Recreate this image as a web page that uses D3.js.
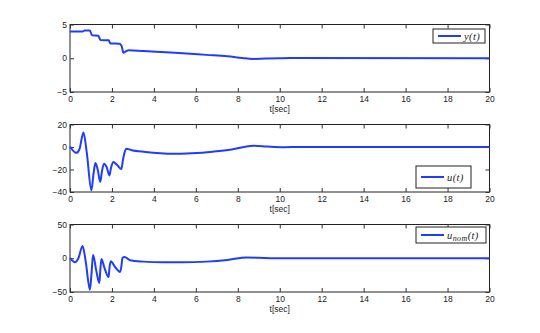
<!DOCTYPE html>
<html>
<head>
<meta charset="utf-8">
<script src="https://cdn.jsdelivr.net/npm/d3@7"></script>
<style>
  body { margin: 0; background: #fff; }
  svg text { font-family: "Liberation Sans", Arial, sans-serif; }
</style>
</head>
<body>
<script>
// time ticks shared by the three panels
var timeTicks = [0, 2, 4, 6, 8, 10, 12, 14, 16, 18, 20]

// y(t)
var yTicks = [-5, 0, 5]
var yTime = [0, 0.6, 0.7, 0.95, 1.05, 1.35, 1.45, 1.85, 1.92, 2.35, 2.45, 2.55, 2.65, 2.8, 3.5, 5, 6.5, 7.5, 8.2, 8.7, 9.3, 10, 10.5, 20]
var yVals = [3.95, 3.97, 4.1, 4.1, 3.4, 3.35, 2.7, 2.65, 2.2, 2.15, 1.9, 0.8, 1.0, 1.2, 1.07, 0.8, 0.5, 0.3, 0.05, -0.1, -0.05, 0.0, 0.02, 0]

// u(t)
var uTicks = [-40, -20, 0, 20]
var uTime = [0, 0.3, 0.45, 0.64, 0.8, 1.02, 1.12, 1.21, 1.32, 1.44, 1.52, 1.62, 1.75, 1.88, 1.95, 2.06, 2.25, 2.45, 2.52, 2.6, 2.69, 2.9, 3.6, 4.3, 4.95, 5.8, 6.8, 7.7, 8.3, 8.75, 9.4, 10.2, 11, 14, 20]
var uVals = [0.5, -5.2, -2, 12.9, -5, -38.5, -24, -14.3, -20, -31, -22, -14.8, -18, -25.3, -19, -13.4, -16, -19.6, -12, -5, -1.5, -2.6, -4.4, -5.6, -6.1, -5.6, -4.2, -2.2, 0, 1.1, 0.4, -0.2, 0, -0.1, 0]

// u_nom(t)
var unTicks = [-50, 0, 50]
var unTime = [0, 0.24, 0.4, 0.6, 0.75, 0.95, 1.02, 1.1, 1.25, 1.4, 1.44, 1.5, 1.65, 1.84, 1.88, 1.94, 2.15, 2.39, 2.45, 2.5, 2.6, 2.86, 3.5, 4.4, 5.4, 6.5, 7.5, 8.43, 9, 9.7, 11, 20]
var unVals = [0.5, -6, 0, 18, -5, -46.5, -25, 5, -18, -36.5, -20, -1, -15, -27.7, -15, -4.4, -13, -20.3, -12, 0.5, 2, -3, -5, -6, -6.1, -5, -2.5, 1.2, 0.8, 0, 0, 0]

var width = 540,
    height = 333
var left = 70, right = 489.5, panelH = 67.5
var lineColor = '#1f3cff'

var svg = d3.select('body').append('svg')
    .attr('width', width)
    .attr('height', height)

var x = d3.scaleLinear().domain([0, 20]).range([left, right])

var panels = [
    {top: 24.5, domain: [-5, 5], ticks: yTicks, t: yTime, v: yVals, legend: {x: 433, y: 29, w: 52, h: 14, label: 'y'}},
    {top: 124.5, domain: [-40, 20], ticks: uTicks, t: uTime, v: uVals, legend: {x: 416, y: 166, w: 55, h: 22, label: 'u'}},
    {top: 224.5, domain: [-50, 50], ticks: unTicks, t: unTime, v: unVals, legend: {x: 416, y: 227, w: 70, h: 16, label: 'u', sub: 'nom'}}
]

panels.forEach(function(p) {
    var y = d3.scaleLinear().domain(p.domain).range([p.top + panelH, p.top])
    var g = svg.append('g')

    // frame
    g.append('rect')
        .attr('x', left).attr('y', p.top)
        .attr('width', right - left).attr('height', panelH)
        .attr('fill', 'none').attr('stroke', '#222').attr('stroke-width', 1)

    // ticks, inside on all four sides (matlab box)
    var axes = [
        {axis: d3.axisBottom(x), tr: `translate(0,${p.top + panelH})`, labels: true},
        {axis: d3.axisTop(x), tr: `translate(0,${p.top})`, labels: false},
        {axis: d3.axisLeft(y), tr: `translate(${left},0)`, labels: true},
        {axis: d3.axisRight(y), tr: `translate(${right},0)`, labels: false}
    ]
    axes.forEach(function(a, i) {
        var ax = a.axis
            .tickValues(i < 2 ? timeTicks : p.ticks)
            .tickSizeInner(-4)
            .tickSizeOuter(0)
            .tickPadding(i < 2 ? 4 : 3)
            .tickFormat(a.labels ? d3.format('d') : '')
        var ag = g.append('g').attr('transform', a.tr).call(ax)
        ag.select('.domain').remove()
        ag.selectAll('line').attr('stroke', '#333')
        ag.selectAll('text').attr('font-size', 8.5).attr('fill', '#222')
            .style('font-family', '"Liberation Sans", Arial, sans-serif')
    })

    g.append('text')
        .attr('x', (left + right) / 2)
        .attr('y', p.top + panelH + 20)
        .attr('text-anchor', 'middle')
        .attr('font-size', 8.5)
        .attr('fill', '#222')
        .text('t[sec]')

    var line = d3.line()
        .x(function(d, i) { return x(p.t[i]) })
        .y(function(d) { return y(d) })
        .curve(d3.curveMonotoneX)

    g.append('path')
        .datum(p.v)
        .attr('d', line)
        .attr('fill', 'none')
        .attr('stroke', lineColor)
        .attr('stroke-width', 2)
        .attr('stroke-linejoin', 'round')

    // legend
    var L = p.legend
    g.append('rect')
        .attr('x', L.x).attr('y', L.y)
        .attr('width', L.w).attr('height', L.h)
        .attr('fill', '#fff').attr('stroke', '#222').attr('stroke-width', 1)
    g.append('line')
        .attr('x1', L.x + 5).attr('x2', L.x + 28)
        .attr('y1', L.y + L.h / 2).attr('y2', L.y + L.h / 2)
        .attr('stroke', lineColor).attr('stroke-width', 2)
    var lt = g.append('text')
        .attr('x', L.x + 31)
        .attr('y', L.y + L.h / 2 + 3.5)
        .attr('font-size', 10.5)
        .attr('letter-spacing', 0.4)
        .style('font-family', '"Liberation Serif", "DejaVu Serif", serif')
        .style('font-style', 'italic')
        .attr('fill', '#222')
    lt.append('tspan').text(L.label)
    if (L.sub) {
        lt.append('tspan').attr('font-size', 8).attr('dy', 2).text(L.sub)
        lt.append('tspan').attr('dy', -2).text('(t)')
    } else {
        lt.append('tspan').text('(t)')
    }
})
</script>
</body>
</html>
